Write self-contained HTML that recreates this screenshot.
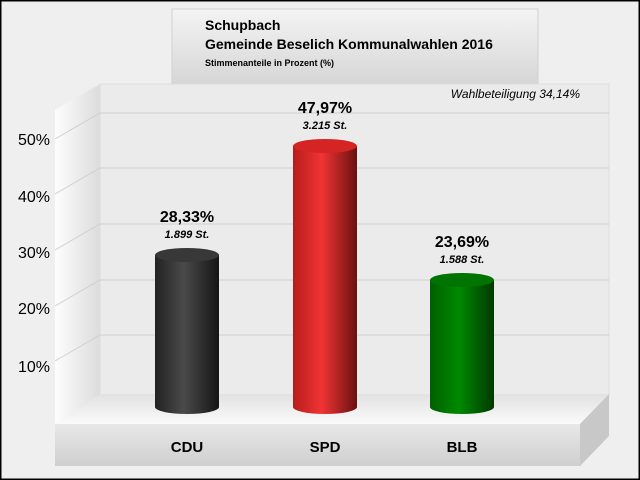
<!DOCTYPE html><html><head><style>body{margin:0;background:#fff}svg{display:block}text{font-family:"Liberation Sans",sans-serif}</style></head><body>
<svg width="640" height="480" viewBox="0 0 640 480" xmlns="http://www.w3.org/2000/svg">
<defs>
<linearGradient id="tb" x1="0" y1="0" x2="0" y2="1"><stop offset="0" stop-color="#f4f4f4"/><stop offset="1" stop-color="#d4d4d4"/></linearGradient>
<linearGradient id="fl" x1="0" y1="0" x2="0" y2="1"><stop offset="0" stop-color="#e2e2e2"/><stop offset="1" stop-color="#fafafa"/></linearGradient>
<linearGradient id="ff" x1="0" y1="0" x2="0" y2="1"><stop offset="0" stop-color="#e8e8e8"/><stop offset="1" stop-color="#cfcfcf"/></linearGradient>
<linearGradient id="lw" x1="0" y1="0" x2="1" y2="0"><stop offset="0" stop-color="#fdfdfd"/><stop offset="1" stop-color="#dcdcdc"/></linearGradient>
<linearGradient id="gk" x1="0" y1="0" x2="1" y2="0"><stop offset="0" stop-color="#222"/><stop offset=".45" stop-color="#4a4a4a"/><stop offset="1" stop-color="#151515"/></linearGradient>
<linearGradient id="gr" x1="0" y1="0" x2="1" y2="0"><stop offset="0" stop-color="#b81c1c"/><stop offset=".45" stop-color="#f03434"/><stop offset="1" stop-color="#6a1010"/></linearGradient>
<linearGradient id="gg" x1="0" y1="0" x2="1" y2="0"><stop offset="0" stop-color="#006000"/><stop offset=".45" stop-color="#008a00"/><stop offset="1" stop-color="#003800"/></linearGradient>
</defs>
<rect x="0.5" y="0.5" width="639" height="479" fill="#efefef" stroke="#000"/>
<rect x="1" y="1" width="638" height="478" fill="none" stroke="#000" stroke-width="1"/>
<rect x="172" y="9" width="366" height="80" fill="url(#tb)" stroke="#d0d0d0"/>
<text x="205" y="30" font-size="14" font-weight="bold">Schupbach</text>
<text x="205" y="49" font-size="14" font-weight="bold">Gemeinde Beselich Kommunalwahlen 2016</text>
<text x="205" y="66" font-size="9" font-weight="bold">Stimmenanteile in Prozent (%)</text>
<rect x="100" y="84" width="509" height="313" fill="#ebebeb" stroke="#dcdcdc"/>
<polygon points="55,110 100,84 100,397 55,424" fill="url(#lw)"/>
<g stroke="#cfcfcf" stroke-width="1" fill="none">
<polyline points="55,139 100,113 609,113"/>
<polyline points="55,194 100,168 609,168"/>
<polyline points="55,250 100,224 609,224"/>
<polyline points="55,306 100,280 609,280"/>
<polyline points="55,361 100,335 609,335"/>
</g>
<polygon points="55,424 100,394 609,394 580,424" fill="url(#fl)"/>
<polygon points="580,424 609,394 609,436 580,466" fill="#c8c8c8"/>
<rect x="55" y="424" width="525" height="42" fill="url(#ff)"/>
<g font-size="16" fill="#000">
<text x="18" y="145">50%</text><text x="18" y="202">40%</text><text x="18" y="258">30%</text><text x="18" y="314">20%</text><text x="18" y="372">10%</text>
</g>
<text x="580" y="98" font-size="12" font-style="italic" text-anchor="end">Wahlbeteiligung 34,14%</text>
<!-- bars -->
<rect x="155" y="255" width="64" height="152" fill="url(#gk)"/><ellipse cx="187" cy="407" rx="32" ry="7" fill="url(#gk)"/><ellipse cx="187" cy="255" rx="32" ry="7" fill="#383838"/>
<rect x="293" y="146" width="64" height="261" fill="url(#gr)"/><ellipse cx="325" cy="407" rx="32" ry="7" fill="url(#gr)"/><ellipse cx="325" cy="146" rx="32" ry="7" fill="#d42424"/>
<rect x="430" y="280" width="64" height="127" fill="url(#gg)"/><ellipse cx="462" cy="407" rx="32" ry="7" fill="url(#gg)"/><ellipse cx="462" cy="280" rx="32" ry="7" fill="#007400"/>
<g font-weight="bold" text-anchor="middle">
<text x="187" y="222" font-size="16">28,33%</text><text x="187" y="238" font-size="11" font-style="italic">1.899 St.</text>
<text x="325" y="113" font-size="16">47,97%</text><text x="325" y="129" font-size="11" font-style="italic">3.215 St.</text>
<text x="462" y="247" font-size="16">23,69%</text><text x="462" y="263" font-size="11" font-style="italic">1.588 St.</text>
<text x="187" y="452" font-size="15">CDU</text><text x="325" y="452" font-size="15">SPD</text><text x="462" y="452" font-size="15">BLB</text>
</g>
</svg>
</body></html>
